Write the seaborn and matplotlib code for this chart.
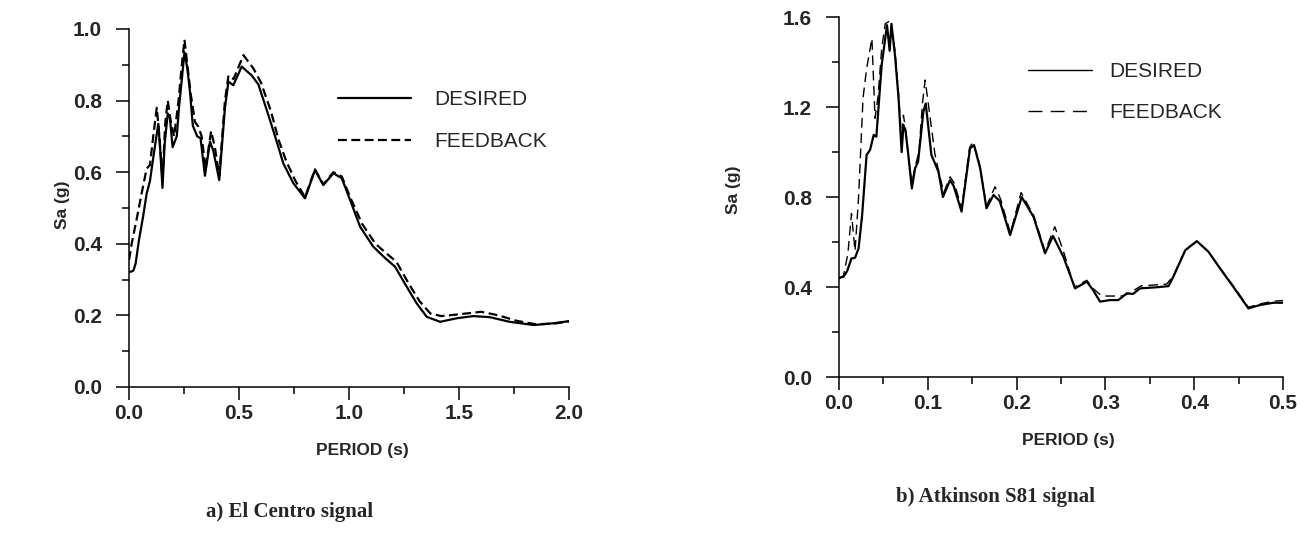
import matplotlib
matplotlib.use("Agg")
import matplotlib.pyplot as plt
import seaborn as sns
from matplotlib.ticker import MultipleLocator, FormatStrFormatter

# El Centro signal: response spectrum, desired vs feedback
el_t_des = [0.00, 0.02, 0.03, 0.045, 0.065, 0.08, 0.095, 0.11, 0.122, 0.133, 0.142, 0.152,
            0.162, 0.176, 0.186, 0.198, 0.217, 0.227, 0.24, 0.252, 0.265, 0.277, 0.29, 0.31,
            0.325, 0.345, 0.368, 0.383, 0.41, 0.436, 0.452, 0.474, 0.512, 0.558, 0.588, 0.633,
            0.664, 0.701, 0.747, 0.80, 0.845, 0.883, 0.929, 0.967, 1.005, 1.05, 1.11, 1.164,
            1.209, 1.262, 1.307, 1.353, 1.414, 1.49, 1.565, 1.64, 1.73, 1.84, 1.93, 2.0]
el_sa_des = [0.32, 0.325, 0.345, 0.41, 0.48, 0.54, 0.575, 0.64, 0.69, 0.735, 0.66, 0.556,
             0.68, 0.764, 0.75, 0.67, 0.70, 0.78, 0.86, 0.935, 0.89, 0.825, 0.73, 0.70,
             0.695, 0.59, 0.685, 0.66, 0.578, 0.78, 0.853, 0.843, 0.895, 0.87, 0.845, 0.76,
             0.70, 0.625, 0.569, 0.527, 0.606, 0.564, 0.597, 0.583, 0.522, 0.448, 0.392, 0.36,
             0.336, 0.28, 0.234, 0.196, 0.182, 0.192, 0.198, 0.195, 0.182, 0.173, 0.178, 0.184]

el_t_fb = [0.00, 0.012, 0.035, 0.057, 0.08, 0.095, 0.11, 0.126, 0.138, 0.152, 0.165,
           0.176, 0.19, 0.205, 0.225, 0.24, 0.252, 0.265, 0.28, 0.30, 0.315, 0.33, 0.348,
           0.373, 0.39, 0.41, 0.436, 0.452, 0.475, 0.52, 0.565, 0.60, 0.645, 0.68, 0.715,
           0.757, 0.80, 0.845, 0.883, 0.929, 0.967, 1.005, 1.06, 1.12, 1.17, 1.215, 1.27,
           1.32, 1.37, 1.42, 1.50, 1.60, 1.68, 1.76, 1.85, 1.93, 2.0]
el_sa_fb = [0.355, 0.40, 0.47, 0.54, 0.61, 0.62, 0.70, 0.78, 0.70, 0.58, 0.74,
            0.80, 0.74, 0.70, 0.80, 0.90, 0.97, 0.90, 0.82, 0.74, 0.727, 0.70, 0.61,
            0.715, 0.67, 0.59, 0.80, 0.87, 0.86, 0.927, 0.89, 0.85, 0.77, 0.69, 0.63,
            0.575, 0.53, 0.608, 0.566, 0.60, 0.588, 0.53, 0.455, 0.40, 0.373, 0.35, 0.29,
            0.24, 0.205, 0.198, 0.203, 0.21, 0.20, 0.185, 0.175, 0.177, 0.183]

# Atkinson S81 signal
atk_t_des = [0.000, 0.005, 0.009, 0.014, 0.018, 0.022, 0.026, 0.031, 0.035, 0.039, 0.042,
             0.048, 0.054, 0.057, 0.059, 0.063, 0.067, 0.0705, 0.0725, 0.075, 0.078, 0.082,
             0.0856, 0.089, 0.095, 0.0976, 0.104, 0.112, 0.117, 0.125, 0.129, 0.138, 0.1475,
             0.152, 0.159, 0.166, 0.174, 0.181, 0.1926, 0.2057, 0.219, 0.232, 0.241, 0.2526,
             0.2658, 0.279, 0.286, 0.294, 0.305, 0.3145, 0.324, 0.331, 0.339, 0.3578, 0.371,
             0.3765, 0.39, 0.403, 0.416, 0.429, 0.444, 0.461, 0.474, 0.489, 0.5]
atk_sa_des = [0.44, 0.446, 0.47, 0.527, 0.53, 0.572, 0.72, 0.987, 1.01, 1.076, 1.068,
              1.387, 1.564, 1.45, 1.57, 1.43, 1.24, 1.00, 1.12, 1.09, 0.987, 0.838,
              0.927, 0.957, 1.18, 1.216, 0.987, 0.912, 0.80, 0.875, 0.85, 0.735, 1.016,
              1.031, 0.927, 0.75, 0.809, 0.782, 0.631, 0.80, 0.712, 0.55, 0.627, 0.535,
              0.394, 0.424, 0.387, 0.335, 0.342, 0.342, 0.372, 0.369, 0.394, 0.399, 0.404,
              0.446, 0.564, 0.604, 0.557, 0.483, 0.401, 0.305, 0.32, 0.33, 0.33]

atk_t_fb = [0.000, 0.005, 0.010, 0.014, 0.018, 0.022, 0.027, 0.031, 0.037, 0.0405, 0.044,
            0.048, 0.052, 0.056, 0.059, 0.063, 0.067, 0.0705, 0.0725, 0.075, 0.079, 0.082,
            0.086, 0.09, 0.094, 0.097, 0.101, 0.108, 0.113, 0.118, 0.125, 0.13, 0.138,
            0.147, 0.151, 0.158, 0.166, 0.1757, 0.182, 0.193, 0.205, 0.219, 0.232, 0.243,
            0.2526, 0.265, 0.279, 0.287, 0.296, 0.32, 0.33, 0.34, 0.369, 0.3765, 0.39,
            0.403, 0.416, 0.429, 0.444, 0.461, 0.474, 0.489, 0.5]
atk_sa_fb = [0.44, 0.45, 0.55, 0.727, 0.56, 0.80, 1.24, 1.37, 1.505, 1.15, 1.25,
             1.46, 1.57, 1.58, 1.55, 1.45, 1.26, 1.05, 1.164, 1.10, 0.95, 0.86,
             0.94, 1.00, 1.22, 1.32, 1.20, 0.99, 0.90, 0.82, 0.89, 0.86, 0.75,
             1.02, 1.045, 0.95, 0.76, 0.846, 0.79, 0.64, 0.82, 0.72, 0.56, 0.668,
             0.56, 0.40, 0.43, 0.39, 0.36, 0.36, 0.38, 0.405, 0.413, 0.45, 0.566,
             0.604, 0.557, 0.485, 0.405, 0.31, 0.325, 0.337, 0.34]

sns.set_style("ticks")
plt.rcParams['font.family'] = ['Liberation Sans', 'DejaVu Sans']

fig = plt.figure(figsize=(13.1, 5.5), dpi=100)
ax1 = fig.add_axes([0.0985, 0.2964, 0.3359, 0.6509])
ax2 = fig.add_axes([0.6405, 0.3145, 0.3389, 0.6545])


def style_axis(ax, xmax, xmaj, xmin, ymax, ymaj, ymin):
    ax.set_xlim(0, xmax)
    ax.set_ylim(0, ymax)
    ax.xaxis.set_major_locator(MultipleLocator(xmaj))
    ax.xaxis.set_minor_locator(MultipleLocator(xmin))
    ax.yaxis.set_major_locator(MultipleLocator(ymaj))
    ax.yaxis.set_minor_locator(MultipleLocator(ymin))
    ax.xaxis.set_major_formatter(FormatStrFormatter('%.1f'))
    ax.yaxis.set_major_formatter(FormatStrFormatter('%.1f'))
    sns.despine(ax=ax)
    for s in ['left', 'bottom']:
        ax.spines[s].set_linewidth(1.1)
        ax.spines[s].set_color('black')
    ax.tick_params(which='major', length=9.5, width=1.1, direction='out', color='black')
    ax.tick_params(which='minor', length=5, width=1.1, direction='out', color='black')
    ax.tick_params(axis='y', which='major', pad=10)
    ax.tick_params(axis='x', which='major', pad=3)
    for lab in ax.get_xticklabels() + ax.get_yticklabels():
        lab.set_fontsize(15)
        lab.set_fontweight('bold')
    ax.set_xlabel('PERIOD (s)', fontsize=12.5, fontweight='bold')
    ax.set_ylabel('Sa (g)', fontsize=12.5, fontweight='bold')


# a) El Centro
sns.lineplot(x=el_t_des, y=el_sa_des, ax=ax1, color='black', linewidth=1.6,
             sort=False, estimator=None, label='DESIRED')
sns.lineplot(x=el_t_fb, y=el_sa_fb, ax=ax1, color='black', linewidth=1.6,
             sort=False, estimator=None, label='FEEDBACK')
ax1.lines[1].set_dashes((4, 2))
style_axis(ax1, 2.0, 0.5, 0.25, 1.0, 0.2, 0.1)
ax1.xaxis.set_label_coords(0.53, -0.156)
ax1.yaxis.set_label_coords(-0.135, 0.51)
leg1 = ax1.legend(frameon=False, loc='upper left', bbox_to_anchor=(0.475, 0.829),
                  fontsize=15, handlelength=3.5, handletextpad=1.1, labelspacing=1.1,
                  borderpad=0, borderaxespad=0)
leg1.get_lines()[1].set_dashes((4, 2))

# b) Atkinson S81
sns.lineplot(x=atk_t_des, y=atk_sa_des, ax=ax2, color='black', linewidth=1.6,
             sort=False, estimator=None, label='DESIRED')
sns.lineplot(x=atk_t_fb, y=atk_sa_fb, ax=ax2, color='black', linewidth=1.0,
             sort=False, estimator=None, label='FEEDBACK')
ax2.lines[1].set_dashes((7, 4))
style_axis(ax2, 0.5, 0.1, 0.05, 1.6, 0.4, 0.2)
ax2.xaxis.set_label_coords(0.516, -0.156)
ax2.yaxis.set_label_coords(-0.22, 0.52)
leg2 = ax2.legend(frameon=False, loc='upper left', bbox_to_anchor=(0.425, 0.874),
                  fontsize=15, handlelength=3.1, handletextpad=0.8, labelspacing=1.05,
                  borderpad=0, borderaxespad=0)
leg2.get_lines()[0].set_linewidth(1.0)
leg2.get_lines()[1].set_dashes((10, 6))

fig.text(290 / 1310, 1 - 512 / 550, 'a) El Centro signal', ha='center', va='center',
         family='Liberation Serif', fontweight='bold', fontsize=15)
fig.text(996 / 1310, 1 - 497 / 550, 'b) Atkinson S81 signal', ha='center', va='center',
         family='Liberation Serif', fontweight='bold', fontsize=15)

fig.savefig('out.png', dpi=100)
